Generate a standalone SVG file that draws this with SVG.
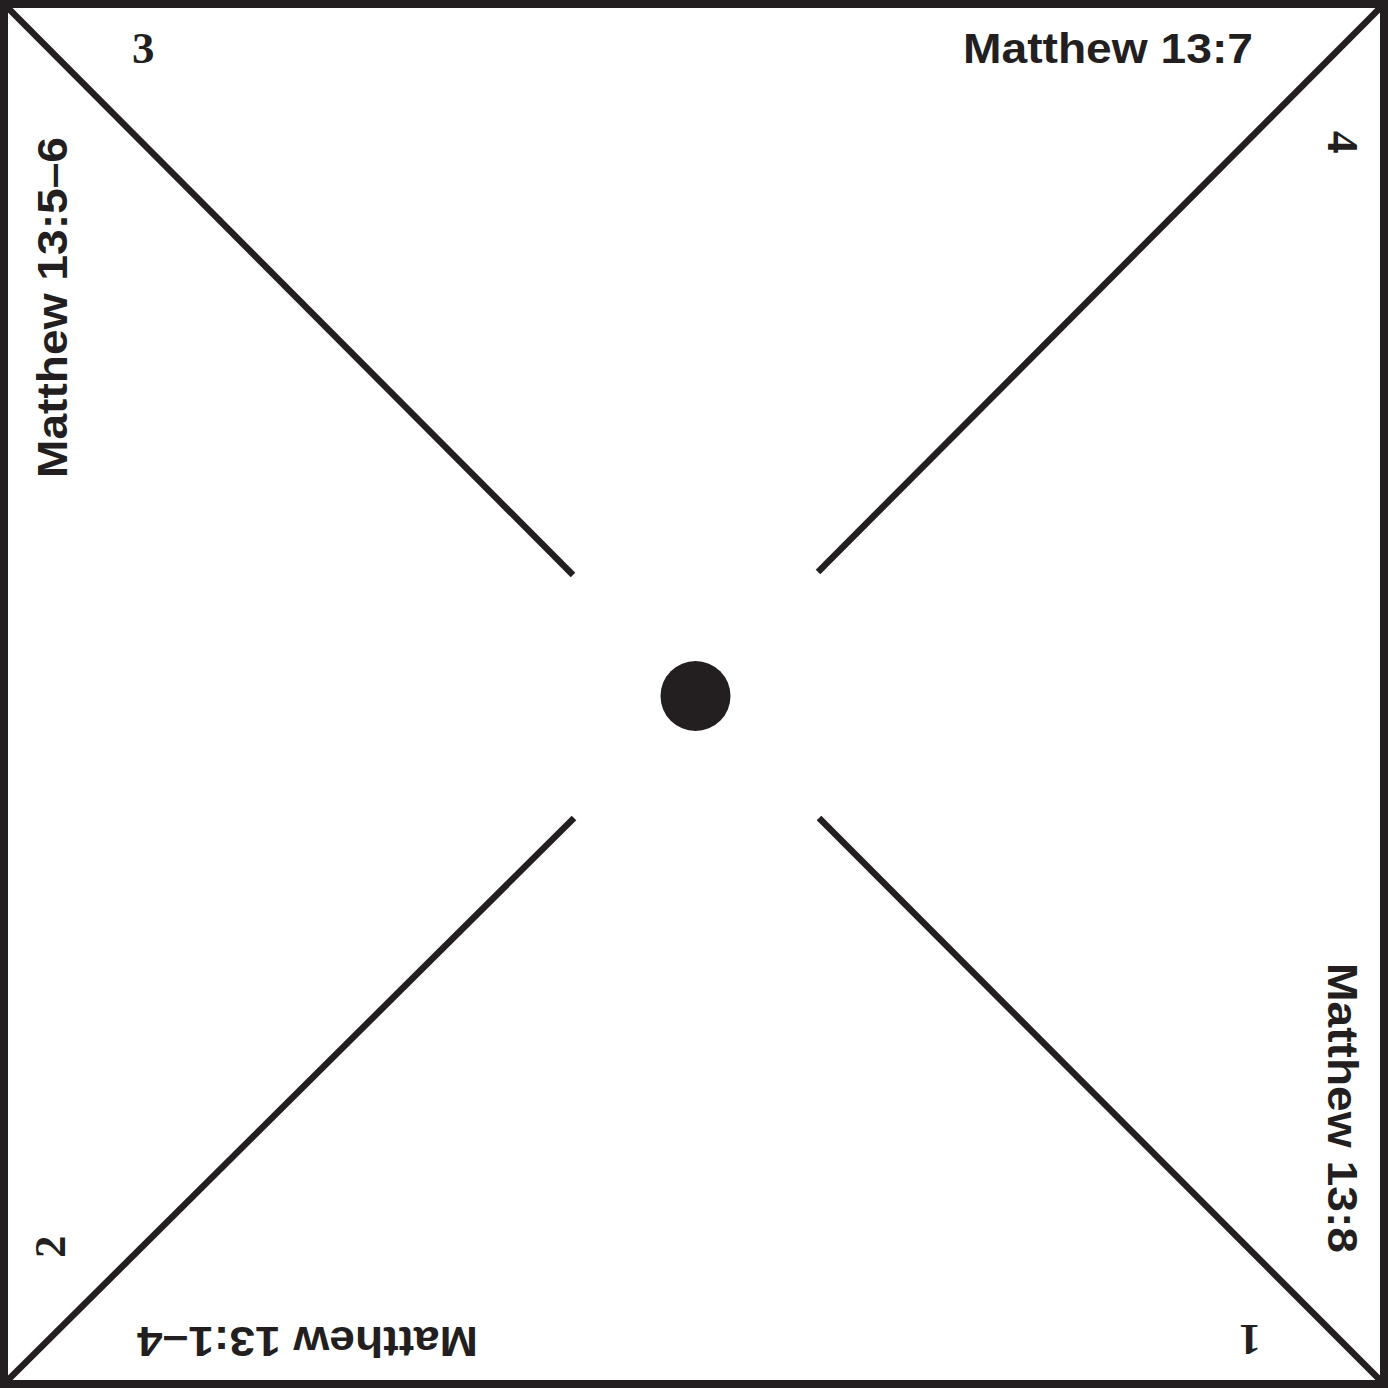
<svg xmlns="http://www.w3.org/2000/svg" width="1388" height="1388" viewBox="0 0 1388 1388">
<style>
.ln{stroke:#231f20;stroke-width:6.5;fill:none}
.lbl{font-family:"Liberation Sans",Arial,sans-serif;font-weight:bold;font-size:42px;fill:#231f20}
.num{font-family:"Liberation Serif","Times New Roman",serif;font-weight:bold;font-size:45px;fill:#231f20}
</style>
<rect width="1388" height="1388" fill="#fff"/>
<g id="border"><rect x="4" y="4" width="1380" height="1380" fill="none" stroke="#231f20" stroke-width="8"/></g>
<g id="connectors">
<line class="ln" x1="8" y1="8" x2="573" y2="575"/>
<line class="ln" x1="1380" y1="8" x2="818" y2="572"/>
<line class="ln" x1="8" y1="1380" x2="574" y2="818"/>
<line class="ln" x1="1380" y1="1380" x2="819" y2="818"/>
</g>
<g id="center"><circle cx="695.5" cy="696" r="35" fill="#231f20"/></g>
<g id="label-top"><text class="lbl" x="963" y="63" textLength="290" lengthAdjust="spacingAndGlyphs">Matthew 13:7</text></g>
<g id="label-left"><text class="lbl" transform="translate(67,478) rotate(-90)" textLength="341" lengthAdjust="spacingAndGlyphs">Matthew 13:5–6</text></g>
<g id="label-right"><text class="lbl" transform="translate(1328,963) rotate(90)" textLength="290" lengthAdjust="spacingAndGlyphs">Matthew 13:8</text></g>
<g id="label-bottom"><text class="lbl" transform="translate(478,1327) rotate(180)" textLength="341" lengthAdjust="spacingAndGlyphs">Matthew 13:1–4</text></g>
<g id="num-3"><text class="num" x="132" y="63">3</text></g>
<g id="num-4"><text class="num" transform="translate(1328,131) rotate(90)">4</text></g>
<g id="num-2"><text class="num" transform="translate(65,1258) rotate(-90)">2</text></g>
<g id="num-1"><text class="num" transform="translate(1261,1325) rotate(180)">1</text></g>
</svg>
